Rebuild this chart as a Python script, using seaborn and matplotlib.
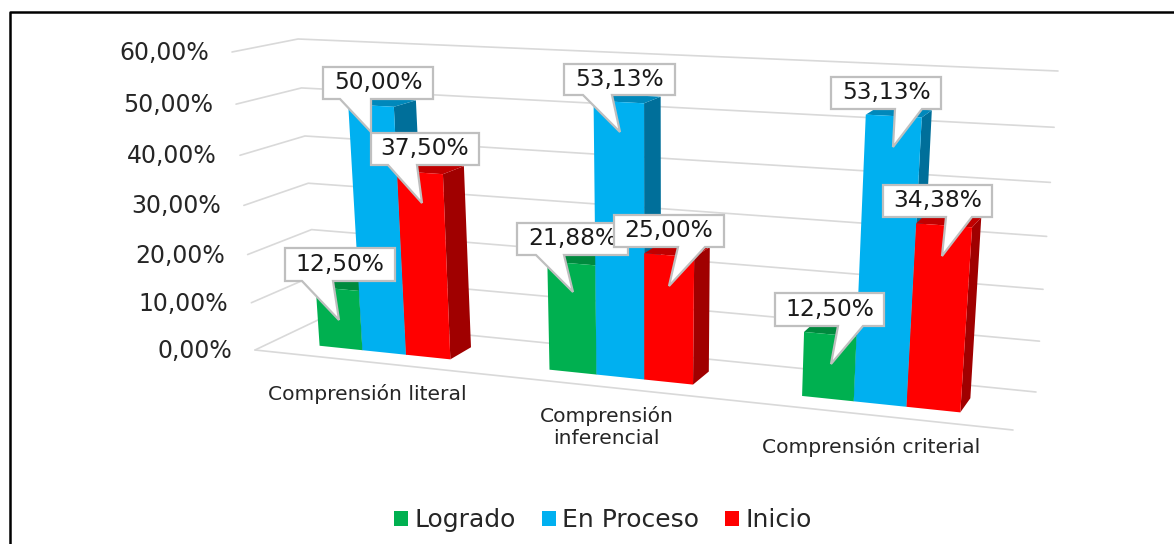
import numpy as np
import pandas as pd
import matplotlib
matplotlib.use('Agg')
import matplotlib.pyplot as plt
import matplotlib.transforms as mtransforms
from matplotlib.patches import Polygon
import seaborn as sns

# Chart data
categorias = ['Comprensión literal', 'Comprensión\ninferencial', 'Comprensión criterial']
niveles = ['Logrado', 'En Proceso', 'Inicio']
logrado = [12.50, 21.88, 12.50]
en_proceso = [50.00, 53.13, 53.13]
inicio = [37.50, 25.00, 34.38]
y_ticks = [0, 10, 20, 30, 40, 50, 60]

colores = ['#00B050', '#00B0F0', '#FF0000']
lados = ['#007A38', '#006F9A', '#A00000']
techos = ['#008A3E', '#0088BB', '#C00000']

W, H = 1174, 544

df = pd.DataFrame({
    'Categoria': categorias * 3,
    'Nivel': np.repeat(niveles, 3),
    'Valor': logrado + en_proceso + inicio,
})

# Corners of the chart box in the picture: left/right, bottom/top
frente = [(255, 350), (1013, 430), (232, 52), (1040, 88)]
fondo = [(318, 320), (1036, 392), (298, 39), (1058, 71)]
X_MIN, X_MAX, V_MAX = -0.5, 2.5, 60
Z_FRENTE, Z_ATRAS = 0.30, 0.68


def homografia(esquinas):
    src = [(0, 0), (1, 0), (0, 1), (1, 1)]
    A, b = [], []
    for (u, v), (px, py) in zip(src, esquinas):
        A.append([u, v, 1, 0, 0, 0, -u * px, -v * px])
        A.append([0, 0, 0, u, v, 1, -u * py, -v * py])
        b += [px, py]
    return np.append(np.linalg.solve(np.array(A, float), np.array(b, float)), 1).reshape(3, 3)


H0 = homografia(frente)
H1 = homografia(fondo)


def aplicar(M, u, v):
    q = M @ np.vstack([u, v, np.ones_like(u)])
    return q[:2] / q[2]


def proyectar(x, v, z):
    # data coordinates + depth -> display coordinates
    x = np.atleast_1d(np.asarray(x, float))
    v = np.atleast_1d(np.asarray(v, float))
    u = (x - X_MIN) / (X_MAX - X_MIN)
    w = v / V_MAX
    p = aplicar(H0, u, w) * (1 - z) + aplicar(H1, u, w) * z
    return np.column_stack([p[0], H - p[1]])


class Proyeccion(mtransforms.Transform):
    input_dims = 2
    output_dims = 2

    def __init__(self, z):
        super().__init__()
        self.z = z

    def transform_non_affine(self, values):
        return proyectar(values[:, 0], values[:, 1], self.z)


sns.set_theme(style='white')
plt.rcParams['font.family'] = ['DejaVu Sans']

fig = plt.figure(figsize=(W / 100, H / 100), dpi=100)
ax = fig.add_axes([0, 0, 1, 1])

sns.barplot(data=df, x='Categoria', y='Valor', hue='Nivel', palette=colores,
            order=categorias, hue_order=niveles, width=0.58, gap=0, saturation=1,
            linewidth=0, ax=ax)
ax.set_xlim(X_MIN, X_MAX)
ax.set_ylim(0, V_MAX)
ax.axis('off')

pantalla = mtransforms.IdentityTransform()
GRIS = '#D9D9D9'


def linea(puntos):
    xy = np.vstack([proyectar(x, v, z) for x, v, z in puntos])
    ax.plot(xy[:, 0], xy[:, 1], color=GRIS, lw=1.2, transform=pantalla, zorder=1,
            clip_on=False, scalex=False, scaley=False)


# Walls and floor
for t in y_ticks:
    linea([(X_MIN, t, 0), (X_MIN, t, 1), (X_MAX, t, 1)])
    ax.annotate(f'{t:.2f}'.replace('.', ',') + '%', xy=(X_MIN, t), xycoords=Proyeccion(0),
                xytext=(-23, -1), textcoords='offset pixels', ha='right', va='center',
                fontsize=17, color='#262626')
linea([(X_MIN, 0, 0), (X_MAX, 0, 0)])

# Bars: seaborn's rectangles put into perspective, plus side and top faces
barras = [p for p in ax.patches if p.get_height() > 0]
barras.sort(key=lambda p: p.get_x())
for i, p in enumerate(barras):
    x0, x1, h = p.get_x(), p.get_x() + p.get_width(), p.get_height()
    n = i % 3
    p.set_transform(Proyeccion(Z_FRENTE))
    p.set_clip_on(False)
    p.set_zorder(3 + i + 0.5)
    lado = np.vstack([proyectar(x1, 0, Z_FRENTE), proyectar(x1, h, Z_FRENTE),
                      proyectar(x1, h, Z_ATRAS), proyectar(x1, 0, Z_ATRAS)])
    techo = np.vstack([proyectar(x0, h, Z_FRENTE), proyectar(x1, h, Z_FRENTE),
                       proyectar(x1, h, Z_ATRAS), proyectar(x0, h, Z_ATRAS)])
    ax.add_patch(Polygon(lado, closed=True, fc=lados[n], ec='none', transform=pantalla,
                         zorder=3 + i, clip_on=False))
    ax.add_patch(Polygon(techo, closed=True, fc=techos[n], ec='none', transform=pantalla,
                         zorder=3 + i, clip_on=False))

# Callouts: (serie, categoria, left, top, right, bottom, tip x, tip y, base x0, base x1)
llamadas = [
    (0, 0, 285, 248, 395, 281, 339, 320, 302, 333),
    (1, 0, 323, 67, 433, 99, 371, 132, 340, 371),
    (2, 0, 371, 133, 479, 165, 422, 203, 388, 417),
    (0, 1, 517, 223, 628, 255, 573, 292, 536, 564),
    (1, 1, 564, 64, 675, 95, 620, 132, 583, 612),
    (2, 1, 614, 215, 724, 247, 669, 286, 678, 705),
    (0, 2, 775, 293, 884, 326, 831, 364, 838, 863),
    (1, 2, 831, 77, 941, 109, 893, 147, 895, 922),
    (2, 2, 883, 185, 992, 217, 942, 256, 946, 972),
]
series = [logrado, en_proceso, inicio]
for k, (s, c, x0, y0, x1, y1, tx, ty, b0, b1) in enumerate(llamadas):
    forma = [(x0, y0), (x1, y0), (x1, y1), (b1, y1), (tx, ty), (b0, y1), (x0, y1)]
    forma = [(a, H - b) for a, b in forma]
    ax.add_patch(Polygon(forma, closed=True, fc='white', ec='#BFBFBF', lw=1.6,
                         transform=pantalla, zorder=50 + 2 * k, clip_on=False))
    ax.text((x0 + x1) / 2, H - (y0 + y1) / 2, f'{series[s][c]:.2f}'.replace('.', ',') + '%',
            transform=pantalla, ha='center', va='center', fontsize=16.8, color='#1A1A1A',
            zorder=51 + 2 * k, clip_on=False)

# Category labels under the floor
for i, (cat, baja) in enumerate(zip(categorias, [-32, -40, -32])):
    ax.annotate(cat, xy=(i, 0), xycoords=Proyeccion(0), xytext=(0, baja),
                textcoords='offset pixels', ha='center', va='center', fontsize=14.6,
                color='#262626', linespacing=1.25)

# Legend
sns.move_legend(ax, 'center', bbox_to_anchor=(603 / W, 1 - 520 / H), ncols=3, frameon=False,
                title=None, handlelength=0.55, handleheight=0.55,
                handletextpad=0.25, columnspacing=1.05, borderpad=0,
                prop={'size': 18})

# Black frame around the picture
ax.plot([9.5, 9.5, W], [0, H - 12, H - 12], color='black', lw=1.8, transform=pantalla,
        zorder=100, clip_on=False, scalex=False, scaley=False)

fig.savefig('out.png', dpi=100)
